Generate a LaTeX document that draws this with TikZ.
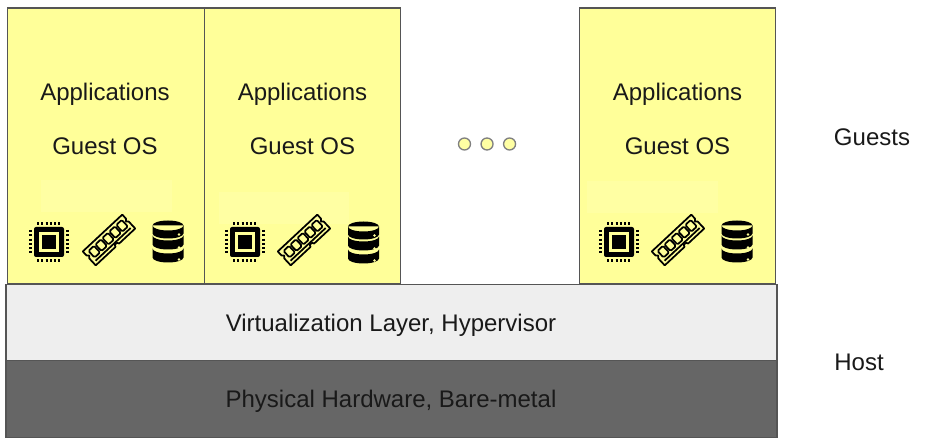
\documentclass[tikz,border=0pt]{standalone}
\usepackage{fontspec}
\setmainfont{Liberation Sans}
\usetikzlibrary{positioning}

\definecolor{guestyellow}{HTML}{FFFF99}
\definecolor{paleyellow}{HTML}{FFFFA3}
\definecolor{layergray}{HTML}{EEEEEE}
\definecolor{hwgray}{HTML}{666666}
\definecolor{linegray}{HTML}{555555}

\tikzset{
  cpu/.pic={
    \fill[black, rounded corners=1.5pt] (-15,-15) rectangle (15,15);
    \draw[guestyellow, line width=2pt] (-8.3,-8.3) rectangle (8.3,8.3);
    \draw[black, line width=2.5pt, dash pattern=on 1.6pt off 1.6pt] (-12,-18.7) -- (12,-18.7);
    \draw[black, line width=2.5pt, dash pattern=on 1.6pt off 1.6pt] (-12,18.7) -- (12,18.7);
    \draw[black, line width=2.5pt, dash pattern=on 1.6pt off 1.6pt] (-18.7,-12) -- (-18.7,12);
    \draw[black, line width=2.5pt, dash pattern=on 1.6pt off 1.6pt] (18.7,-12) -- (18.7,12);
  },
  ram/.pic={
    \begin{scope}[rotate=43, line width=1.3pt, line join=round]
      \draw[black] (-27,-9.5) -- (27,-9.5) -- (27,-4) -- (25,-2) -- (27,0) -- (27,9.5) -- (5,9.5) -- (4,7.5) -- (1,7.5)
        -- (0,9.5) -- (-27,9.5) -- (-27,0) -- (-25,-2) -- (-27,-4) -- cycle;
      \draw[black] (-24,6) -- (24,6);
      \draw[black, rounded corners=1pt] (-22.5,-6) rectangle (-15,3);
      \draw[black, rounded corners=1pt] (-13,-6) rectangle (-5.5,3);
      \draw[black, rounded corners=1pt] (-3.5,-6) rectangle (4,3);
      \draw[black, rounded corners=1pt] (6,-6) rectangle (13.5,3);
      \draw[black, rounded corners=1pt] (15.5,-6) rectangle (23,3);
    \end{scope}
  },
  storage/.pic={
    \fill[black] (-15.5,-16) -- (-15.5,-8) arc[start angle=180, end angle=360, x radius=15.5, y radius=-5] -- (15.5,-16)
      arc[start angle=0, end angle=360, x radius=15.5, y radius=5];
    \fill[black] (-15.5,-6) -- (-15.5,3) arc[start angle=180, end angle=360, x radius=15.5, y radius=-5] -- (15.5,-6)
      arc[start angle=0, end angle=-180, x radius=15.5, y radius=-5];
    \fill[black] (-15.5,7) -- (-15.5,16) arc[start angle=180, end angle=360, x radius=15.5, y radius=-5] -- (15.5,7)
      arc[start angle=0, end angle=-180, x radius=15.5, y radius=-5];
    \fill[guestyellow] (11,-7) circle (1.4) (11,6) circle (1.4) (11,18) circle (1.4);
  }
}

\begin{document}
\begin{tikzpicture}[
  x=0.75pt, y=-0.75pt,
  guest/.style={rectangle, draw=linegray, fill=guestyellow, line width=0.9pt, minimum width=147.4pt, minimum height=207pt, inner sep=0pt, outer sep=0pt},
  layer/.style={rectangle, draw=linegray, line width=0.9pt, minimum width=578.2pt, minimum height=57.5pt, inner sep=0pt, outer sep=0pt},
  patch/.style={rectangle, fill=paleyellow, minimum width=98.2pt, minimum height=24pt, inner sep=0pt},
  word/.style={font=\fontsize{18pt}{20pt}\selectfont, text=black!90, inner sep=0pt, text height=13pt, text depth=4pt},
  moredot/.style={circle, draw=gray, fill=guestyellow!90!white, line width=1pt, minimum size=9pt, inner sep=0pt, outer sep=0pt}
]
\useasboundingbox (0,0) rectangle (930,448);

\node[guest] (guest1) at (106,146) {};
\node[guest, right=0pt of guest1] (guest2) {};
\node[guest, right=133.8pt of guest2] (guest3) {};

\node[layer, fill=layergray] (hypervisor) at (391.5,322.5) {};
\node[layer, fill=hwgray, below=0pt of hypervisor] (hardware) {};
\node[word] (hypervisortext) at (391,326) {Virtualization Layer, Hypervisor};
\node[word] (hardwaretext) at (391,401) {Physical Hardware, Bare-metal};

\node[word] (apps1) at (105,95) {Applications};
\node[word, below=23pt of apps1] (os1) {Guest OS};
\node[word] (apps2) at (302.5,95) {Applications};
\node[word, below=23pt of apps2] (os2) {Guest OS};
\node[word] (apps3) at (677.5,95) {Applications};
\node[word, below=23pt of apps3] (os3) {Guest OS};

\node[patch] (patch1) at (106.5,196) {};
\node[patch] (patch2) at (284,208) {};
\node[patch] (patch3) at (652.5,197.5) {};

\pic at (49,242) {cpu};
\pic at (109,240) {ram};
\pic at (168,241.5) {storage};
\pic at (245,242) {cpu};
\pic at (304,240) {ram};
\pic at (363.5,242.5) {storage};
\pic at (619,242) {cpu};
\pic at (678,240) {ram};
\pic at (737,241.5) {storage};

\node[moredot] (dot1) at (464.5,144) {};
\node[moredot, right=7.9pt of dot1] (dot2) {};
\node[moredot, right=7.9pt of dot2] (dot3) {};

\node[word] (guests) at (872,140) {Guests};
\node[word] (host) at (859,364) {Host};
\end{tikzpicture}
\end{document}
